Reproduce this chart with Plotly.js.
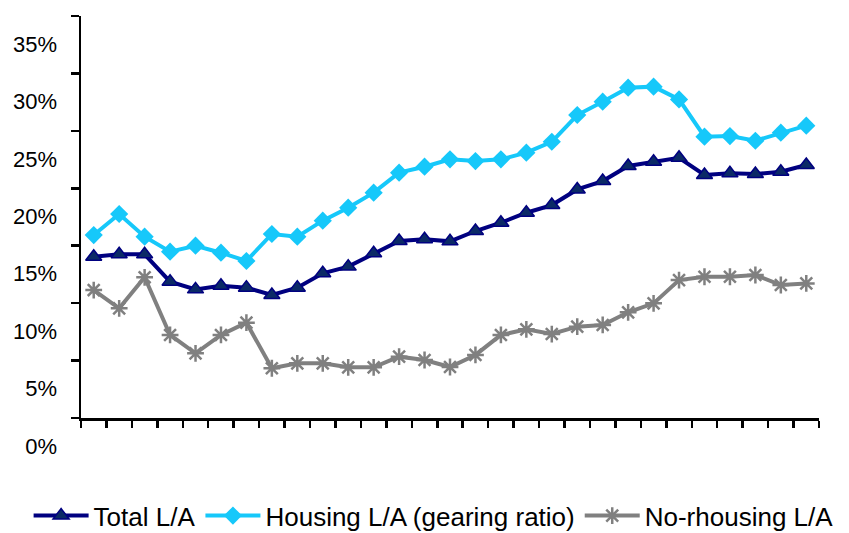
<!DOCTYPE html>
<html>
<head>
<meta charset="utf-8">
<script src="https://cdn.plot.ly/plotly-3.0.1.min.js"></script>
<style>html,body{margin:0;padding:0;background:#fff;}#chart{width:849px;height:533px;}</style>
</head>
<body>
<div id="chart"></div>
<script>
// Period index (no x labels shown in the reference)
const periods = [1,2,3,4,5,6,7,8,9,10,11,12,13,14,15,16,17,18,19,20,21,22,23,24,25,26,27,28,29];

const totalLA = [0.1404,0.1425,0.1425,0.1187,0.1120,0.1152,0.1135,0.1071,0.1135,0.1260,0.1318,0.1434,0.1541,0.1556,0.1538,
                 0.1628,0.1700,0.1787,0.1854,0.1990,0.2063,0.2194,0.2231,0.2266,0.2116,0.2130,0.2124,0.2144,0.2203];

const housingLA = [0.1593,0.1776,0.1579,0.1448,0.1500,0.1439,0.1367,0.1602,0.1579,0.1718,0.1831,0.1962,0.2136,0.2188,0.2252,
                   0.2237,0.2252,0.2310,0.2405,0.2638,0.2754,0.2876,0.2885,0.2774,0.2449,0.2455,0.2414,0.2484,0.2545];

const nonHousingLA = [0.1114,0.0955,0.1225,0.0723,0.0563,0.0723,0.0830,0.0433,0.0476,0.0476,0.0441,0.0441,0.0534,0.0505,0.0444,
                      0.0549,0.0723,0.0772,0.0731,0.0795,0.0810,0.0920,0.0998,0.1201,0.1230,0.1230,0.1245,0.1158,0.1172];

const yTicks = [0,0.05,0.10,0.15,0.20,0.25,0.30,0.35];
const seriesNames = ['Total L/A','Housing L/A (gearing ratio)','No-rhousing L/A'];

const xBoundaries = [periods[0]-0.5].concat(periods.map(p => p+0.5));

const traces = [
  {x: periods, y: totalLA, name: seriesNames[0], type:'scatter', mode:'lines+markers',
   line:{color:'#000080', width:4},
   marker:{symbol:'triangle-up', size:14, color:'#0b2a66', line:{color:'#000080', width:1.5}}},
  {x: periods, y: housingLA, name: seriesNames[1], type:'scatter', mode:'lines+markers',
   line:{color:'#16C8FA', width:4},
   marker:{symbol:'diamond', size:14, color:'#16C8FA'}},
  {x: periods, y: nonHousingLA, name: seriesNames[2], type:'scatter', mode:'lines+markers',
   line:{color:'#808080', width:4},
   marker:{symbol:'asterisk-open', size:14, color:'#808080', line:{color:'#808080', width:2.5}}}
];

const layout = {
  width:849, height:533,
  margin:{l:81, r:30, t:16, b:115, autoexpand:false},
  paper_bgcolor:'#ffffff', plot_bgcolor:'#ffffff',
  font:{family:'"Liberation Sans", Arial, sans-serif', color:'#000000', size:22},
  showlegend:true,
  legend:{orientation:'h', x:-0.071, xanchor:'left', y:-0.243, yanchor:'middle',
          font:{size:26, color:'#000000'}, itemwidth:55, tracegroupgap:0, bgcolor:'rgba(0,0,0,0)'},
  xaxis:{range:[xBoundaries[0], xBoundaries[xBoundaries.length-1]], tickmode:'array', tickvals:xBoundaries,
         showticklabels:false, ticks:'outside', ticklen:7, tickwidth:2.5, tickcolor:'#000',
         showline:true, linecolor:'#000', linewidth:2.5, showgrid:false, zeroline:false, fixedrange:true},
  yaxis:{range:[0,0.35], tickmode:'array', tickvals:yTicks, tickformat:'.0%',
         ticks:'outside', ticklen:8, tickwidth:2.5, tickcolor:'#000',
         ticklabelshift:28, ticklabelstandoff:9,
         showline:true, linecolor:'#000', linewidth:2.5, showgrid:false, zeroline:false, fixedrange:true,
         tickfont:{size:22}}
};

Plotly.newPlot('chart', traces, layout, {displayModeBar:false, staticPlot:true});
</script>
</body>
</html>
